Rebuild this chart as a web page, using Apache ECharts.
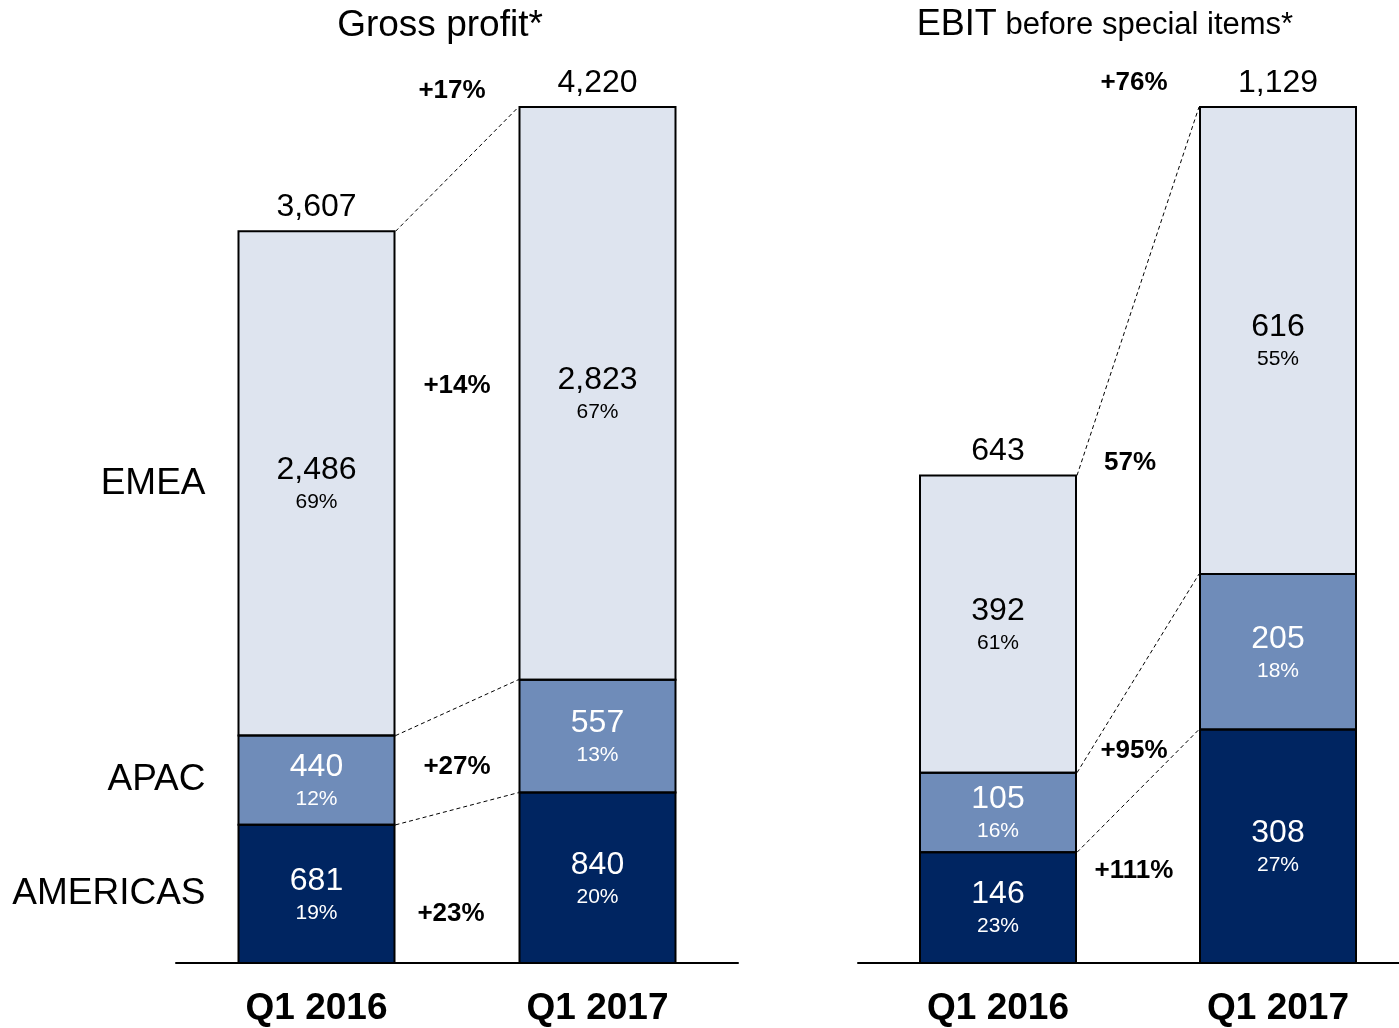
<!DOCTYPE html>
<html>
<head>
<meta charset="utf-8">
<script src="https://cdn.jsdelivr.net/npm/echarts@6/dist/echarts.min.js"></script>
<style>
  html, body { margin: 0; padding: 0; background: #fff; }
  #chart { width: 1399px; height: 1028px; }
</style>
</head>
<body>
<div id="chart"></div>
<script>
const categories = ['Q1 2016', 'Q1 2017'];
const regions = ['AMERICAS', 'APAC', 'EMEA'];

// Gross profit
const gpAmericas = [681, 840];
const gpApac = [440, 557];
const gpEmea = [2486, 2823];
const gpAmericasPct = ['19%', '20%'];
const gpApacPct = ['12%', '13%'];
const gpEmeaPct = ['69%', '67%'];
const gpTotal = [3607, 4220];
const gpGrowth = ['+17%', '+14%', '+27%', '+23%'];

// EBIT before special items
const ebAmericas = [146, 308];
const ebApac = [105, 205];
const ebEmea = [392, 616];
const ebAmericasPct = ['23%', '27%'];
const ebApacPct = ['16%', '18%'];
const ebEmeaPct = ['61%', '55%'];
const ebTotal = [643, 1129];
const ebGrowth = ['+76%', '57%', '+95%', '+111%'];

const FONT = '"Liberation Sans", Arial, sans-serif';
const colors = { AMERICAS: '#002561', APAC: '#6f8cb9', EMEA: '#dee4ef' };
const textColors = { AMERICAS: '#fff', APAC: '#fff', EMEA: '#000' };
const BAR_W = 156;

const fmt = v => v.toLocaleString('en-US');

function barSeries(idx, name, values, pcts) {
  return {
    type: 'bar',
    name: name,
    xAxisIndex: idx,
    yAxisIndex: idx,
    stack: 's' + idx,
    barWidth: BAR_W,
    clip: false,
    data: values,
    itemStyle: { color: colors[name], borderWidth: 0 },
    label: {
      show: true,
      position: 'inside',
      formatter: p => '{v|' + fmt(p.value) + '}\n{p|' + pcts[p.dataIndex] + '}',
      rich: {
        v: { fontSize: 32, lineHeight: 38, color: textColors[name], fontFamily: FONT },
        p: { fontSize: 21, lineHeight: 26, color: textColors[name], fontFamily: FONT }
      }
    }
  };
}

function totalSeries(idx, totals) {
  return {
    type: 'bar',
    xAxisIndex: idx,
    yAxisIndex: idx,
    stack: 's' + idx,
    barWidth: BAR_W,
    clip: false,
    data: [0, 0],
    itemStyle: { color: 'transparent', borderWidth: 0 },
    label: {
      show: true,
      position: 'top',
      distance: 8,
      formatter: p => fmt(totals[p.dataIndex]),
      fontSize: 32,
      color: '#000',
      fontFamily: FONT
    }
  };
}

// black outline round every stacked segment
function outlineSeries(idx, layers) {
  const data = [];
  categories.forEach((c, i) => {
    let lo = 0;
    layers.forEach(l => {
      data.push([i, lo, lo + l[i]]);
      lo += l[i];
    });
  });
  return {
    type: 'custom',
    xAxisIndex: idx,
    yAxisIndex: idx,
    encode: { x: 0, y: [1, 2] },
    data: data,
    z: 5,
    renderItem: (params, api) => {
      const b = api.coord([api.value(0), api.value(1)]);
      const t = api.coord([api.value(0), api.value(2)]);
      return {
        type: 'rect',
        shape: { x: b[0] - BAR_W / 2, y: t[1], width: BAR_W, height: b[1] - t[1] },
        style: { fill: 'none', stroke: '#000', lineWidth: 2 }
      };
    }
  };
}

// dashed connectors between the segment tops of the two bars
function connectorSeries(idx, layers) {
  const data = [];
  let c0 = 0, c1 = 0;
  layers.forEach(l => {
    c0 += l[0]; c1 += l[1];
    data.push([0, c0, c1]);
  });
  return {
    type: 'custom',
    xAxisIndex: idx,
    yAxisIndex: idx,
    encode: { x: 0, y: [1, 2] },
    data: data,
    renderItem: (params, api) => {
      const a = api.coord([0, api.value(1)]);
      const b = api.coord([1, api.value(2)]);
      const h = BAR_W / 2 + 1;
      return {
        type: 'line',
        shape: { x1: a[0] + h, y1: a[1], x2: b[0] - h, y2: b[1] },
        style: { stroke: '#000', lineWidth: 1, lineDash: [4, 3] }
      };
    }
  };
}

// region names next to the first bar, centred on each segment
function rowLabelSeries(layers) {
  const data = [];
  let c = 0;
  layers.forEach(l => {
    data.push([0, c, c + l[0]]);
    c += l[0];
  });
  return {
    type: 'custom',
    xAxisIndex: 0,
    yAxisIndex: 0,
    encode: { x: 0, y: [1, 2] },
    data: data,
    renderItem: (params, api) => {
      const p = api.coord([0, (api.value(1) + api.value(2)) / 2]);
      return {
        type: 'text',
        x: p[0] - BAR_W / 2 - 33,
        y: p[1],
        style: {
          text: regions[params.dataIndex],
          align: 'right',
          verticalAlign: 'middle',
          fill: '#000',
          font: '37px ' + FONT
        }
      };
    }
  };
}

function growthText(text, x, y) {
  return {
    type: 'text', x: x, y: y,
    style: { text: text, align: 'center', verticalAlign: 'middle', fill: '#000', font: 'bold 26px ' + FONT }
  };
}

const xAxisBase = {
  type: 'category',
  data: categories,
  axisLine: { lineStyle: { color: '#000', width: 2 } },
  axisTick: { show: false },
  axisLabel: { fontSize: 37, fontWeight: 'bold', color: '#000', margin: 27, fontFamily: FONT }
};

const option = {
  animation: false,
  grid: [
    { left: 176, width: 562, top: 107, bottom: 65, outerBoundsMode: 'none' },
    { left: 858, width: 560, top: 107, bottom: 65, outerBoundsMode: 'none' }
  ],
  xAxis: [
    Object.assign({ gridIndex: 0 }, xAxisBase),
    Object.assign({ gridIndex: 1 }, xAxisBase)
  ],
  yAxis: [
    { gridIndex: 0, type: 'value', min: 0, max: gpTotal[1], show: false },
    { gridIndex: 1, type: 'value', min: 0, max: ebTotal[1], show: false }
  ],
  graphic: [
    {
      type: 'text', x: 440, y: 26,
      style: { text: 'Gross profit*', align: 'center', verticalAlign: 'middle', fill: '#000', font: '37px ' + FONT }
    },
    {
      type: 'text', x: 1105, y: 25,
      style: {
        text: '{a|EBIT}{b| before special items*}',
        align: 'center', verticalAlign: 'middle', fill: '#000',
        rich: {
          a: { fontSize: 36, fontFamily: FONT, fill: '#000' },
          b: { fontSize: 31, fontFamily: FONT, fill: '#000' }
        }
      }
    },
    growthText(gpGrowth[0], 452, 91),
    growthText(gpGrowth[1], 457, 386),
    growthText(gpGrowth[2], 457, 767),
    growthText(gpGrowth[3], 451, 914),
    growthText(ebGrowth[0], 1134, 83),
    growthText(ebGrowth[1], 1130, 463),
    growthText(ebGrowth[2], 1134, 751),
    growthText(ebGrowth[3], 1134, 871)
  ],
  series: [
    barSeries(0, 'AMERICAS', gpAmericas, gpAmericasPct),
    barSeries(0, 'APAC', gpApac, gpApacPct),
    barSeries(0, 'EMEA', gpEmea, gpEmeaPct),
    totalSeries(0, gpTotal),
    outlineSeries(0, [gpAmericas, gpApac, gpEmea]),
    connectorSeries(0, [gpAmericas, gpApac, gpEmea]),
    rowLabelSeries([gpAmericas, gpApac, gpEmea]),
    barSeries(1, 'AMERICAS', ebAmericas, ebAmericasPct),
    barSeries(1, 'APAC', ebApac, ebApacPct),
    barSeries(1, 'EMEA', ebEmea, ebEmeaPct),
    totalSeries(1, ebTotal),
    outlineSeries(1, [ebAmericas, ebApac, ebEmea]),
    connectorSeries(1, [ebAmericas, ebApac, ebEmea])
  ]
};

const chart = echarts.init(document.getElementById('chart'));
chart.setOption(option);
</script>
</body>
</html>
